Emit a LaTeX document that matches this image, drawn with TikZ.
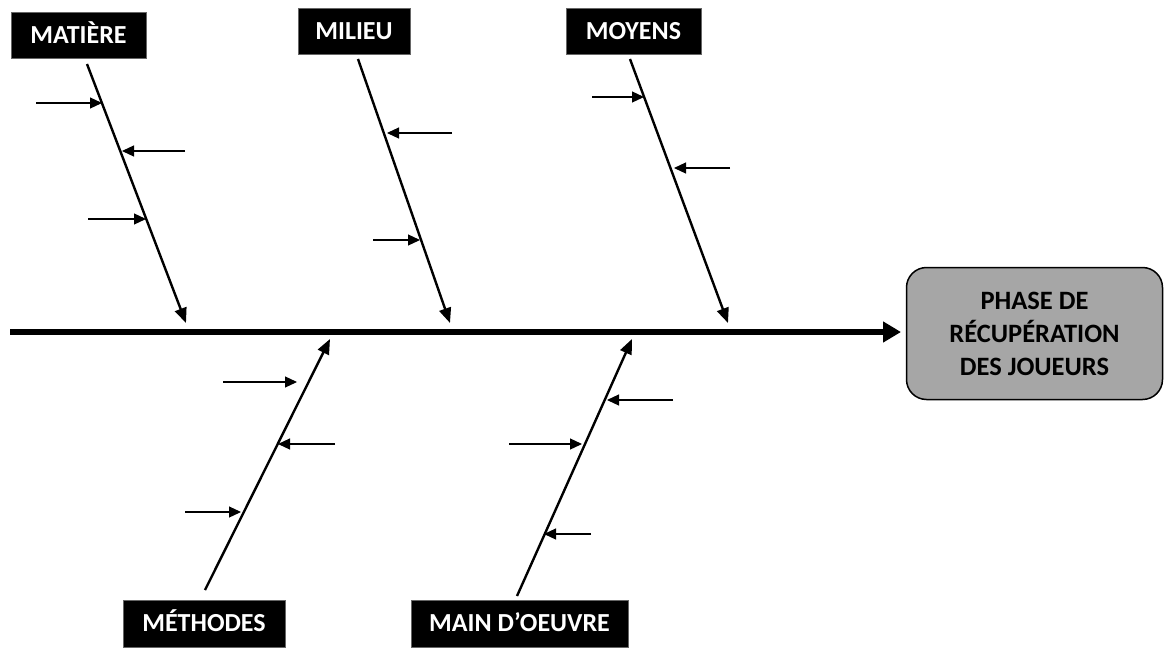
\documentclass[tikz,border=0pt]{standalone}
\usepackage{fontspec}
\setmainfont{Carlito}
\usetikzlibrary{arrows.meta}
\begin{document}
\begin{tikzpicture}[x=1pt,y=-1pt,
  cause/.style={fill=black,draw=black!60,line width=0.6pt,text=white,inner sep=0pt,
    font=\fontsize{26}{30}\selectfont\bfseries,minimum height=46pt,
    text height=16.7pt,text depth=0pt},
  effect/.style={fill=black!35,draw=black,line width=1.5pt,rounded corners=20pt,
    minimum width=256pt,minimum height=132pt,align=center,inner sep=0pt,
    font=\fontsize{26.5}{33}\selectfont\bfseries},
  spine/.style={line width=6pt,-{Triangle[length=18pt,width=20pt]}},
  bone/.style={line width=2.4pt,-{Triangle[length=15pt,width=12pt]}},
  sub/.style={line width=1.2pt,-{Triangle[length=12pt,width=11pt]}}
]
\useasboundingbox (0,0) rectangle (1164,648);
\fill[white] (0,0) rectangle (1164,648);

% labels
\node[cause,minimum width=135pt] (mat) at (78.5,35) {MATIÈRE};
\node[cause,minimum width=112pt] (mil) at (354,31) {MILIEU};
\node[cause,minimum width=135pt] (moy) at (633.5,31) {MOYENS};
\node[cause,minimum width=162pt,minimum height=47pt] (met) at (204,623.5) {MÉTHODES};
\node[cause,minimum width=217pt,minimum height=47pt] (mai) at (519.5,623.5) {MAIN D’OEUVRE};
\node[effect] (eff) at (1034.5,333.5) {PHASE DE\\RÉCUPÉRATION\\DES JOUEURS};

% spine
\coordinate (s0) at (10,332);
\coordinate (s1) at (901,332);
\draw[spine] (s0) -- (s1);

% bones
\coordinate (b1a) at (87,64);   \coordinate (b1b) at (186,323);
\coordinate (b2a) at (358,59);  \coordinate (b2b) at (450,323);
\coordinate (b3a) at (630,59);  \coordinate (b3b) at (728,323);
\coordinate (b4a) at (205,590); \coordinate (b4b) at (330,339);
\coordinate (b5a) at (517,596); \coordinate (b5b) at (632,339);
\draw[bone] (b1a) -- (b1b);
\draw[bone] (b2a) -- (b2b);
\draw[bone] (b3a) -- (b3b);
\draw[bone] (b4a) -- (b4b);
\draw[bone] (b5a) -- (b5b);

% sub-causes
\coordinate (c1a) at (36,103);  \coordinate (c1b) at (102,103);
\coordinate (c2a) at (185,151); \coordinate (c2b) at (122,151);
\coordinate (c3a) at (88,219);  \coordinate (c3b) at (146,219);
\coordinate (c4a) at (452,133); \coordinate (c4b) at (387,133);
\coordinate (c5a) at (373,240); \coordinate (c5b) at (420,240);
\coordinate (c6a) at (592,97);  \coordinate (c6b) at (644,97);
\coordinate (c7a) at (730,168); \coordinate (c7b) at (674,168);
\coordinate (c8a) at (223,382); \coordinate (c8b) at (297,382);
\coordinate (c9a) at (335,444); \coordinate (c9b) at (278,444);
\coordinate (c10a) at (185,512); \coordinate (c10b) at (241,512);
\coordinate (c11a) at (673,400); \coordinate (c11b) at (607,400);
\coordinate (c12a) at (509,444); \coordinate (c12b) at (582,444);
\coordinate (c13a) at (591,534); \coordinate (c13b) at (544,534);
\foreach \i in {1,...,13} {\draw[sub] (c\i a) -- (c\i b);}
\end{tikzpicture}
\end{document}
